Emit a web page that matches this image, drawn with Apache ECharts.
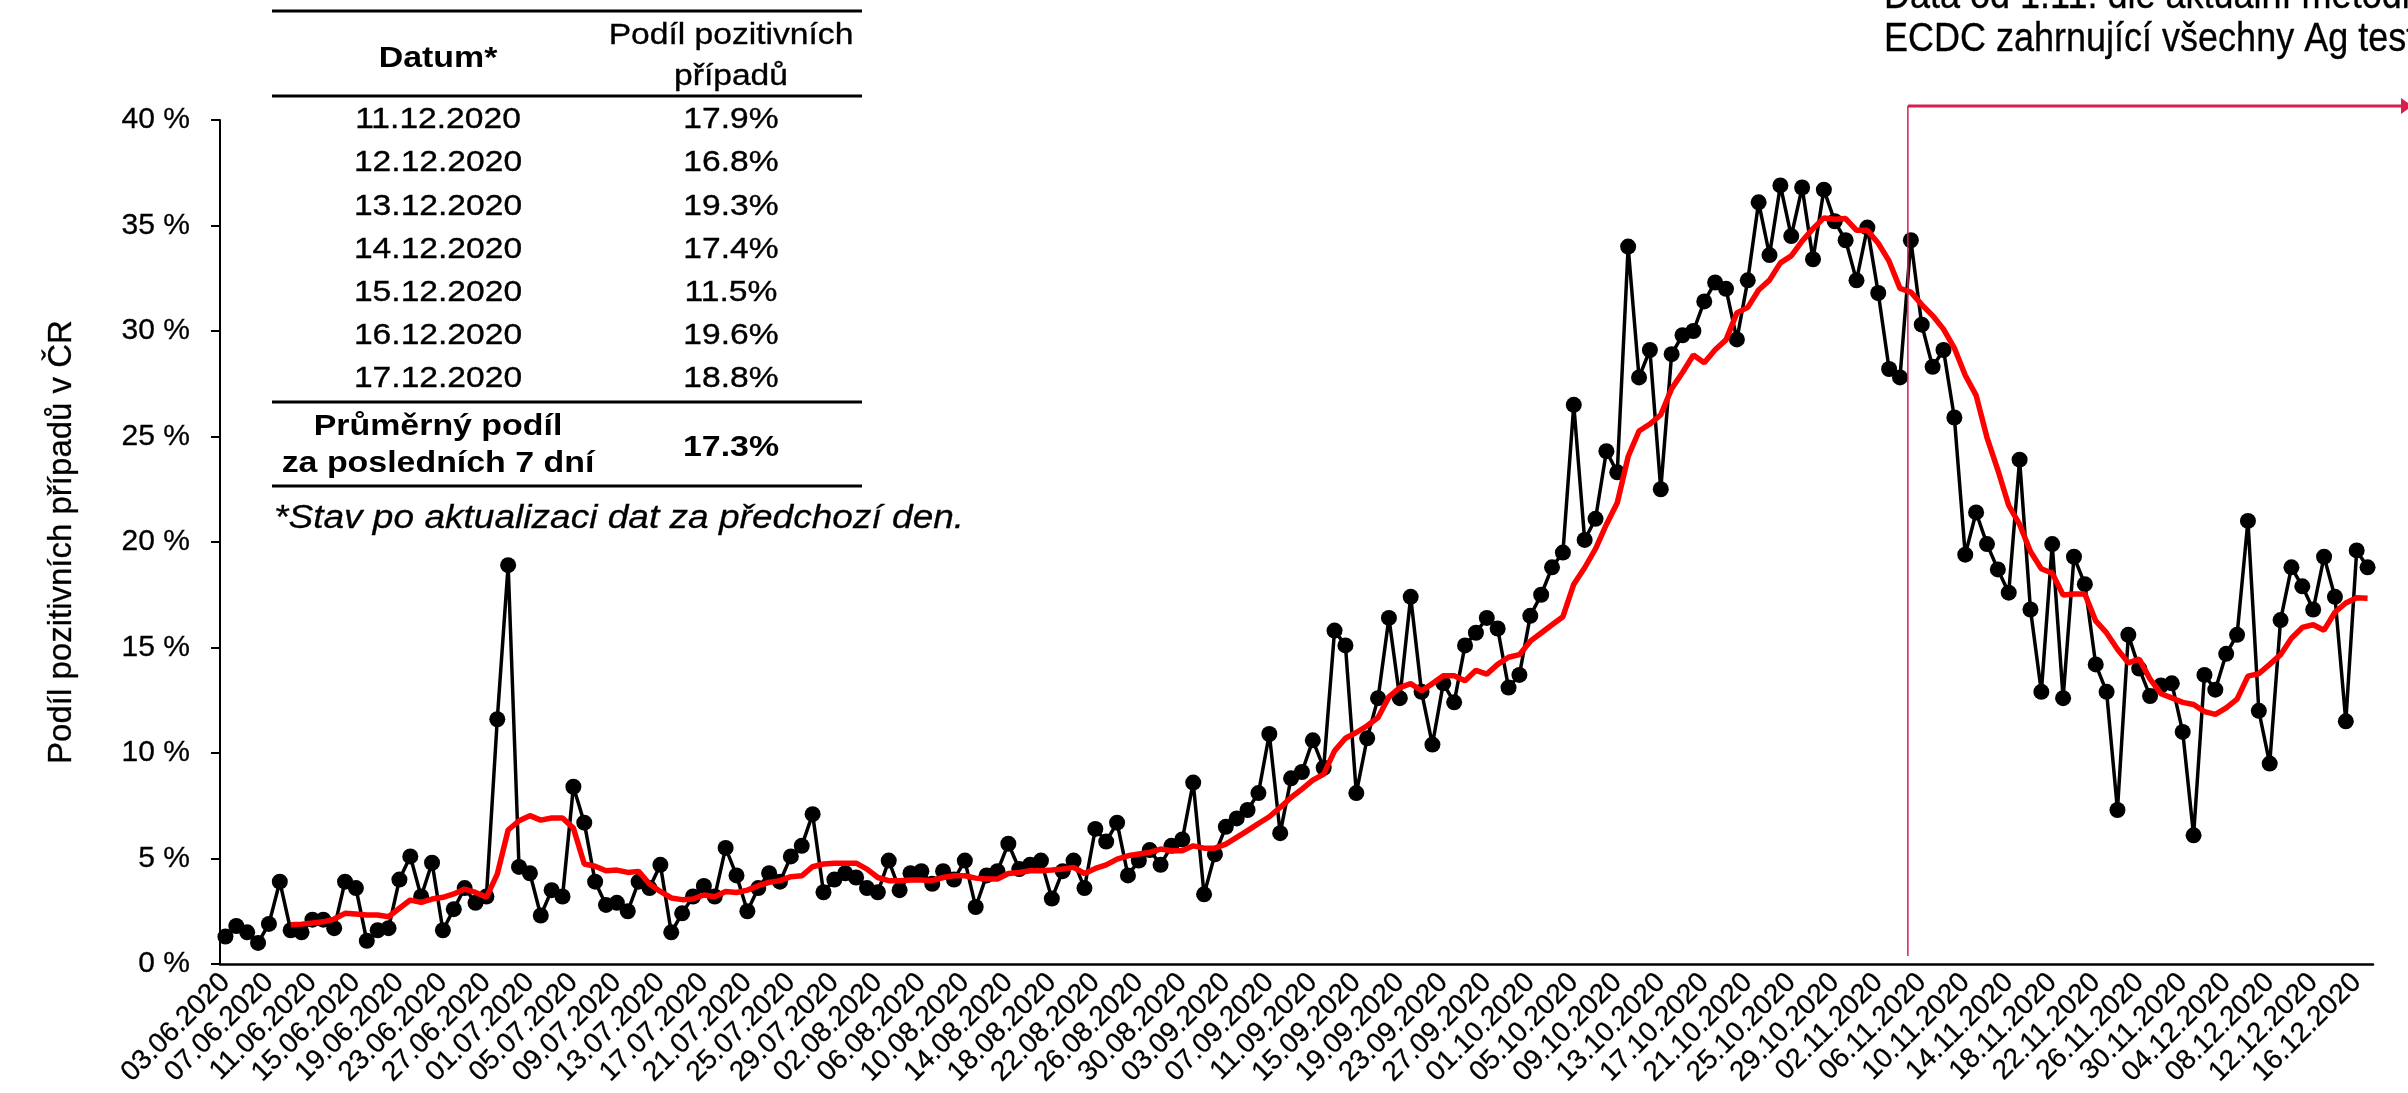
<!DOCTYPE html>
<html>
<head>
<meta charset="utf-8">
<script src="https://cdn.jsdelivr.net/npm/echarts@6/dist/echarts.min.js"></script>
<style>
html, body { margin: 0; padding: 0; background: #fff; }
#main { width: 2408px; height: 1093px; }
</style>
</head>
<body>
<div id="main"></div>
<script>
// daily share of positive tests (%), 03.06.2020 - 17.12.2020
var startDate = [2020, 6, 3];
var positivity = [
  1.3, 1.8, 1.5, 1.0, 1.9, 3.9, 1.6, 1.5, 2.1, 2.1,
  1.7, 3.9, 3.6, 1.1, 1.6, 1.7, 4.0, 5.1, 3.2, 4.8,
  1.6, 2.6, 3.6, 2.9, 3.2, 11.6, 18.9, 4.6, 4.3, 2.3,
  3.5, 3.2, 8.4, 6.7, 3.9, 2.8, 2.9, 2.5, 3.9, 3.6,
  4.7, 1.5, 2.4, 3.2, 3.7, 3.2, 5.5, 4.2, 2.5, 3.6,
  4.3, 3.9, 5.1, 5.6, 7.1, 3.4, 4.0, 4.3, 4.1, 3.6,
  3.4, 4.9, 3.5, 4.3, 4.4, 3.8, 4.4, 4.0, 4.9, 2.7,
  4.2, 4.4, 5.7, 4.5, 4.7, 4.9, 3.1, 4.4, 4.9, 3.6,
  6.4, 5.8, 6.7, 4.2, 4.9, 5.4, 4.7, 5.6, 5.9, 8.6,
  3.3, 5.2, 6.5, 6.9, 7.3, 8.1, 10.9, 6.2, 8.8, 9.1,
  10.6, 9.3, 15.8, 15.1, 8.1, 10.7, 12.6, 16.4, 12.6, 17.4,
  12.9, 10.4, 13.3, 12.4, 15.1, 15.7, 16.4, 15.9, 13.1, 13.7,
  16.5, 17.5, 18.8, 19.5, 26.5, 20.1, 21.1, 24.3, 23.3, 34.0,
  27.8, 29.1, 22.5, 28.9, 29.8, 30.0, 31.4, 32.3, 32.0, 29.6,
  32.4, 36.1, 33.6, 36.9, 34.5, 36.8, 33.4, 36.7, 35.2, 34.3,
  32.4, 34.9, 31.8, 28.2, 27.8, 34.3, 30.3, 28.3, 29.1, 25.9,
  19.4, 21.4, 19.9, 18.7, 17.6, 23.9, 16.8, 12.9, 19.9, 12.6,
  19.3, 18.0, 14.2, 12.9, 7.3, 15.6, 14.0, 12.7, 13.2, 13.3,
  11.0, 6.1, 13.7, 13.0, 14.7, 15.6, 21.0, 12.0, 9.5, 16.3,
  18.8, 17.9, 16.8, 19.3, 17.4, 11.5, 19.6, 18.8
];
// red line (7-day average)
var average7 = [
  null, null, null, null, null, null, 1.86, 1.89, 1.94, 2.0,
  2.13, 2.4, 2.37, 2.32, 2.32, 2.24, 2.64, 3.03, 2.92, 3.08,
  3.16, 3.32, 3.55, 3.39, 3.16, 4.26, 6.35, 6.79, 7.03, 6.82,
  6.92, 6.92, 6.44, 4.74, 4.63, 4.42, 4.45, 4.34, 4.39, 3.79,
  3.44, 3.13, 3.05, 3.08, 3.27, 3.19, 3.44, 3.39, 3.5, 3.71,
  3.87, 3.95, 4.14, 4.18, 4.61, 4.74, 4.78, 4.78, 4.78, 4.5,
  4.1, 3.95, 3.95, 3.98, 3.98, 3.95, 4.1, 4.18, 4.18, 4.07,
  4.03, 4.03, 4.29, 4.34, 4.42, 4.42, 4.45, 4.5, 4.58, 4.29,
  4.53, 4.7, 4.97, 5.13, 5.21, 5.29, 5.45, 5.37, 5.37, 5.6,
  5.49, 5.49, 5.68, 6.0, 6.32, 6.66, 6.98, 7.42, 7.89, 8.29,
  8.71, 9.0, 10.1, 10.7, 10.97, 11.29, 11.68, 12.66, 13.1, 13.29,
  12.95, 13.29, 13.66, 13.66, 13.42, 13.92, 13.74, 14.2, 14.54, 14.66,
  15.3, 15.69, 16.08, 16.46, 18.0, 18.78, 19.68, 20.83, 21.86, 24.05,
  25.26, 25.59, 26.03, 27.27, 28.03, 28.86, 28.5, 29.11, 29.58, 30.86,
  31.12, 31.94, 32.41, 33.23, 33.56, 34.26, 34.85, 35.36, 35.3, 35.33,
  34.77, 34.77, 34.16, 33.31, 32.02, 31.84, 31.25, 30.73, 30.09, 29.19,
  27.9, 26.95, 24.95, 23.41, 21.73, 20.83, 19.55, 18.73, 18.52, 17.49,
  17.54, 17.54, 16.26, 15.69, 14.92, 14.27, 14.45, 13.5, 12.81, 12.61,
  12.4, 12.3, 11.96, 11.83, 12.14, 12.55, 13.64, 13.76, 14.2, 14.66,
  15.44, 15.95, 16.08, 15.82, 16.67, 17.11, 17.36, 17.33
];
var yTicks = [0, 40, 5];

// table in the upper left
var tableDates = ['11.12.2020', '12.12.2020', '13.12.2020', '14.12.2020', '15.12.2020', '16.12.2020', '17.12.2020'];
var tableValues = ['17.9%', '16.8%', '19.3%', '17.4%', '11.5%', '19.6%', '18.8%'];
var tableAverage = '17.3%';
var markerDate = '05.11.2020';

function pad(n) { return n < 10 ? '0' + n : '' + n; }
var dates = [];
for (var i = 0; i < positivity.length; i++) {
  var d = new Date(startDate[0], startDate[1] - 1, startDate[2] + i);
  dates.push(pad(d.getDate()) + '.' + pad(d.getMonth() + 1) + '.' + d.getFullYear());
}

var FONT = 'Arial, "Liberation Sans", sans-serif';
var crimson = '#d81e4f';

var myChart = echarts.init(document.getElementById('main'));
myChart.setOption({
  animation: false,
  backgroundColor: '#fff',
  grid: { left: 220, right: 35, top: 120, bottom: 129, containLabel: false, outerBoundsMode: 'none' },
  xAxis: {
    type: 'category',
    data: dates,
    boundaryGap: true,
    axisLine: { lineStyle: { color: '#000', width: 2.5 } },
    axisTick: { interval: 3, length: 9, lineStyle: { color: '#000', width: 2 } },
    axisLabel: {
      interval: 3, rotate: 45, margin: 14, fontSize: 28, color: '#000', fontFamily: FONT,
      textBorderColor: '#000', textBorderWidth: 0.3
    }
  },
  yAxis: {
    type: 'value',
    min: yTicks[0],
    max: yTicks[1],
    interval: yTicks[2],
    name: 'Podíl pozitivních případů v ČR',
    nameLocation: 'middle',
    nameGap: 142,
    nameTextStyle: { fontSize: 33, color: '#000', fontFamily: FONT, textBorderColor: '#000', textBorderWidth: 0.3 },
    axisLine: { show: true, lineStyle: { color: '#000', width: 2 } },
    axisTick: { show: true, length: 9, lineStyle: { color: '#000', width: 2 } },
    splitLine: { show: false },
    axisLabel: {
      formatter: '{value} %', fontSize: 30, margin: 30, color: '#000', fontFamily: FONT,
      textBorderColor: '#000', textBorderWidth: 0.3
    }
  },
  series: [
    {
      name: 'Podíl pozitivních',
      type: 'line',
      data: positivity,
      color: '#000',
      symbol: 'circle',
      symbolSize: 16,
      showAllSymbol: true,
      lineStyle: { color: '#000', width: 3.5 },
      itemStyle: { color: '#000' },
      z: 2
    },
    {
      name: '7denní průměr',
      type: 'line',
      data: average7,
      showSymbol: false,
      symbol: 'none',
      lineStyle: { color: '#ff0000', width: 5.5 },
      itemStyle: { color: '#ff0000' },
      z: 5
    }
  ]
});

// table + notes drawn as graphics (table text in the source is a little wide)
var g = [];
function txt(s, x, y, opts) {
  opts = opts || {};
  var st = {
    text: s, fill: '#000',
    font: (opts.style || 'normal') + ' ' + (opts.weight || 'normal') + ' ' + (opts.size || 30) + 'px ' + FONT,
    align: opts.align || 'center', verticalAlign: 'middle',
    textAlign: opts.align || 'center', textVerticalAlign: 'middle'
  };
  if (opts.lw) { st.stroke = '#000'; st.lineWidth = opts.lw; }
  g.push({ type: 'text', x: x, y: y, z: 10, scaleX: opts.sx || 1, scaleY: opts.sy || 1, style: st });
}
function hline(y, x1, x2, w, color) {
  g.push({ type: 'line', z: 10, shape: { x1: x1, y1: y, x2: x2, y2: y }, style: { stroke: color || '#000', lineWidth: w || 3 } });
}
var colA = 438, colB = 731, tL = 272, tR = 862;
var wide = { sx: 1.12, lw: 0.35 };
var wideBold = { sx: 1.13, weight: 'bold' };
hline(11, tL, tR);
txt('Datum*', colA, 59, wideBold);
txt('Podíl pozitivních', colB, 36, wide);
txt('případů', colB, 77, wide);
hline(96, tL, tR);
for (var r = 0; r < tableDates.length; r++) {
  txt(tableDates[r], colA, 120 + r * 43.2, wide);
  txt(tableValues[r], colB, 120 + r * 43.2, wide);
}
hline(402, tL, tR);
txt('Průměrný podíl', colA, 427, wideBold);
txt('za posledních 7 dní', colA, 464, wideBold);
txt(tableAverage, colB, 448, wideBold);
hline(486, tL, tR);
txt('*Stav po aktualizaci dat za předchozí den.', 274, 519, { style: 'italic', align: 'left', size: 34, sx: 1.09, lw: 0.3 });

// methodology note and marker
txt('Data od 1.11. dle aktuální metodiky', 1884, -3, { size: 36, align: 'left', sy: 1.12, lw: 0.3 });
txt('ECDC zahrnující všechny Ag testy', 1884, 40, { size: 36, align: 'left', sy: 1.12, lw: 0.3 });
var xv = myChart.convertToPixel({ xAxisIndex: 0 }, markerDate) - 3;
g.push({ type: 'line', z: 10, shape: { x1: xv, y1: 956, x2: xv, y2: 106 }, style: { stroke: crimson, lineWidth: 1.5 } });
g.push({ type: 'line', z: 10, shape: { x1: xv, y1: 106, x2: 2403, y2: 106 }, style: { stroke: crimson, lineWidth: 3 } });
g.push({ type: 'polygon', z: 10, shape: { points: [[2401, 98], [2412, 106], [2401, 114]] }, style: { fill: crimson } });

myChart.setOption({ graphic: g });
</script>
</body>
</html>
